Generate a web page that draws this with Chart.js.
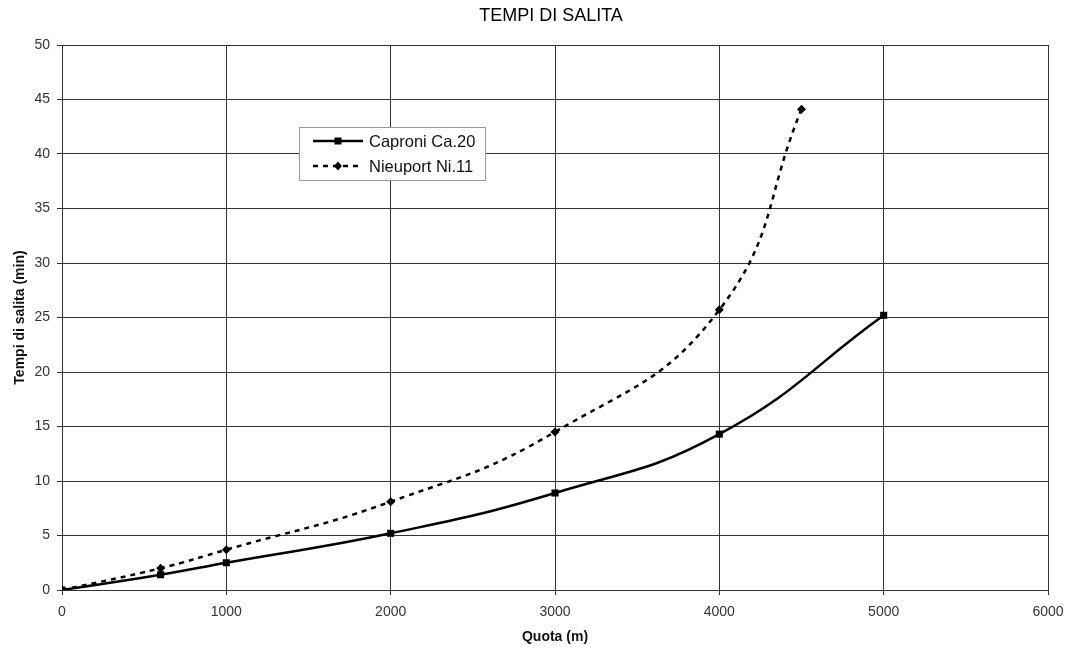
<!DOCTYPE html>
<html>
<head>
<meta charset="utf-8">
<script src="https://cdn.jsdelivr.net/npm/chart.js@4/dist/chart.umd.min.js"></script>
<style>
  html, body { margin: 0; padding: 0; background: #fff; }
  #wrap { width: 1065px; height: 650px; }
</style>
</head>
<body>
<div id="wrap"><canvas id="c" width="1065" height="650"></canvas></div>
<script>
const chartTitle = "TEMPI DI SALITA";
const xAxisTitle = "Quota (m)";
const yAxisTitle = "Tempi di salita (min)";
const seriesNames = ["Caproni Ca.20", "Nieuport Ni.11"];
const altitudesCaproni = [0, 600, 1000, 2000, 3000, 4000, 5000];
const timesCaproni = [0, 1.4, 2.5, 5.2, 8.9, 14.3, 25.2];
const altitudesNieuport = [0, 600, 1000, 2000, 3000, 4000, 4500];
const timesNieuport = [0, 2.0, 3.7, 8.1, 14.5, 25.7, 44.1];
const xTicks = [0, 1000, 2000, 3000, 4000, 5000, 6000];
const yTicks = [0, 5, 10, 15, 20, 25, 30, 35, 40, 45, 50];

const FONT = "'Liberation Sans', Arial, sans-serif";
const GRID = '#333333';

const toPts = (xs, ys) => xs.map((x, i) => ({ x: x, y: ys[i] }));

const titleAndLegend = {
  id: 'titleAndLegend',
  afterDatasetsDraw(chart) {
    const ctx = chart.ctx;
    const a = chart.chartArea;
    ctx.save();
    // chart title, centred over plot area
    ctx.fillStyle = '#000';
    ctx.font = "18px " + FONT;
    ctx.textAlign = 'center';
    ctx.textBaseline = 'middle';
    ctx.fillText(chartTitle, (a.left + a.right) / 2 - 4, 16.5);

    // legend box
    const x0 = 299, y0 = 127, w = 186, h = 53;
    ctx.fillStyle = '#fff';
    ctx.fillRect(x0, y0, w, h);
    ctx.strokeStyle = '#9a9a9a';
    ctx.lineWidth = 1;
    ctx.strokeRect(x0 + 0.5, y0 + 0.5, w, h);
    const rows = [y0 + 14, y0 + 39];
    chart.data.datasets.forEach((ds, i) => {
      const y = rows[i];
      ctx.strokeStyle = '#000';
      ctx.lineWidth = 2.5;
      ctx.setLineDash(ds.borderDash || []);
      ctx.beginPath();
      ctx.moveTo(x0 + 14, y);
      ctx.lineTo(x0 + 64, y);
      ctx.stroke();
      ctx.setLineDash([]);
      ctx.fillStyle = '#000';
      const cx = x0 + 39;
      if (ds.pointStyle === 'rect') {
        ctx.fillRect(cx - 3.5, y - 3.5, 7, 7);
      } else {
        ctx.beginPath();
        ctx.moveTo(cx, y - 4.5); ctx.lineTo(cx + 4, y); ctx.lineTo(cx, y + 4.5); ctx.lineTo(cx - 4, y);
        ctx.closePath(); ctx.fill();
      }
      ctx.fillStyle = '#111';
      ctx.font = "16.5px " + FONT;
      ctx.textBaseline = 'middle';
      ctx.textAlign = 'left';
      ctx.fillText(ds.label, x0 + 70, y + 1);
    });
    ctx.restore();
  }
};

new Chart(document.getElementById('c'), {
  type: 'line',
  data: {
    datasets: [
      {
        label: seriesNames[0],
        data: toPts(altitudesCaproni, timesCaproni),
        borderColor: '#000',
        backgroundColor: '#000',
        borderWidth: 2.5,
        tension: 0.45,
        pointStyle: 'rect',
        pointRadius: 5,
        pointBorderWidth: 0,
        fill: false
      },
      {
        label: seriesNames[1],
        data: toPts(altitudesNieuport, timesNieuport),
        borderColor: '#000',
        backgroundColor: '#000',
        borderWidth: 2.5,
        borderDash: [5, 5],
        tension: 0.45,
        pointStyle: 'rectRot',
        pointRadius: 4.5,
        pointBorderWidth: 0,
        fill: false
      }
    ]
  },
  options: {
    responsive: false,
    animation: false,
    layout: { padding: { left: 0, right: 0, top: 45, bottom: 0 } },
    plugins: {
      legend: { display: false },
      tooltip: { enabled: false },
      title: { display: false }
    },
    scales: {
      x: {
        type: 'linear',
        min: 0, max: 6000,
        afterBuildTicks: (axis) => { axis.ticks = xTicks.map(v => ({ value: v })); },
        afterFit: (axis) => { axis.height = 60; axis.paddingRight = 17; },
        grid: { color: GRID, lineWidth: 1, tickLength: 5, drawTicks: true },
        border: { color: GRID, width: 1 },
        ticks: {
          color: '#333', font: { family: FONT, size: 14 }, padding: 9, maxRotation: 0,
          callback: (v) => String(v)
        },
        title: {
          display: true, text: xAxisTitle, color: '#111',
          font: { family: FONT, size: 14, weight: 'bold' },
          padding: { top: 0, bottom: 4.6 }
        }
      },
      y: {
        type: 'linear',
        min: 0, max: 50,
        afterBuildTicks: (axis) => { axis.ticks = yTicks.map(v => ({ value: v })); },
        afterFit: (axis) => { axis.width = 62; axis.paddingTop = 0; },
        grid: { color: GRID, lineWidth: 1, tickLength: 5, drawTicks: true },
        border: { color: GRID, width: 1 },
        ticks: {
          color: '#333', font: { family: FONT, size: 14 }, padding: 7,
          callback: (v) => String(v)
        },
        title: {
          display: true, text: yAxisTitle, color: '#111',
          font: { family: FONT, size: 14, weight: 'bold' },
          padding: { top: 11.6, bottom: 0 }
        }
      }
    }
  },
  plugins: [titleAndLegend, {
    id: 'rightBorder',
    afterDraw(chart) {
      const a = chart.chartArea, ctx = chart.ctx;
      ctx.save();
      ctx.strokeStyle = GRID; ctx.lineWidth = 1;
      ctx.beginPath();
      ctx.moveTo(Math.round(a.right) + 0.5, a.top);
      ctx.lineTo(Math.round(a.right) + 0.5, a.bottom + 5);
      ctx.stroke();
      ctx.restore();
    }
  }]
});
</script>
</body>
</html>
